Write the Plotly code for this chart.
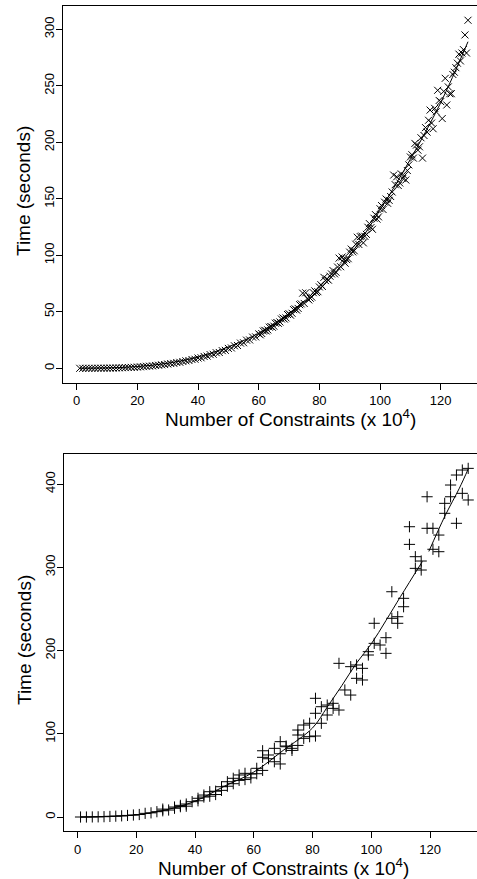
import plotly.graph_objects as go

# ---------------- data: top panel ('x' markers) ----------------
TOP_X1 = list(range(1, 130))
TOP_Y1 = [0.0, 0.0, 0.0, 0.0, 0.0, 0.0, 0.1, 0.1, 0.1, 0.1,
          0.2, 0.2, 0.3, 0.4, 0.5, 0.6, 0.7, 0.8, 0.9, 1.1,
          1.3, 1.5, 1.8, 1.9, 2.1, 2.5, 2.7, 3.1, 3.3, 3.8,
          4.2, 4.4, 5.1, 5.3, 6.0, 6.6, 6.9, 7.8, 8.0, 9.1,
          9.3, 10.5, 10.8, 12.1, 12.4, 13.8, 14.0, 15.6, 15.9, 17.6,
          18.0, 19.9, 20.2, 22.3, 22.6, 24.9, 25.1, 27.6, 27.8, 30.5,
          30.8, 33.6, 34.0, 37.0, 37.3, 40.5, 41.0, 44.5, 44.6, 48.3,
          48.7, 52.6, 53.0, 57.0, 57.4, 61.8, 62.0, 66.9, 67.1, 72.0,
          72.4, 77.6, 78.0, 83.5, 83.6, 89.6, 89.9, 96.0, 96.2, 102.8,
          103.0, 109.8, 109.6, 117.0, 116.8, 124.8, 124.5, 132.8, 132.0, 141.2,
          140.5, 149.8, 148.6, 156.0, 162.5, 161.8, 172.0, 170.5, 175.0, 187.0,
          186.0, 197.5, 196.0, 186.0, 213.0, 219.5, 217.0, 230.0, 246.0, 236.0,
          245.0, 233.0, 243.0, 260.0, 266.0, 278.0, 279.0, 295.0, 308.0]
TOP_X2 = [60.5 + i for i in range(69)]
TOP_Y2 = [29.6, 33.0, 33.0, 36.4, 36.3, 39.9, 39.8, 43.6, 43.5, 47.6,
          47.0, 51.9, 51.5, 56.3, 66.5, 66.8, 60.5, 63.0, 68.5, 67.8,
          74.0, 80.5, 79.0, 81.5, 86.5, 85.0, 97.5, 98.5, 93.0, 97.0,
          105.5, 104.0, 116.0, 116.5, 111.0, 118.5, 128.0, 123.0, 136.0, 134.0,
          144.0, 147.0, 146.0, 152.0, 171.0, 169.5, 164.0, 168.0, 166.6, 180.0,
          189.0, 199.0, 193.0, 204.0, 206.0, 209.0, 228.5, 212.0, 227.0, 237.0,
          221.0, 256.6, 249.0, 243.0, 262.0, 270.0, 272.0, 282.0, 279.0]
TOP_FIT_X = [1, 10, 20, 30, 40, 50, 60, 70, 80, 90, 100, 110, 120, 129]
TOP_FIT_Y = [0, 0.3, 1.5, 4.5, 10, 19, 31, 48, 70, 100, 140, 185, 235, 289]

# ---------------- data: bottom panel ('+' markers) ----------------
BOT_X = [1, 3, 5, 7, 9, 11, 13, 15, 17, 19, 21, 23, 25, 27, 29, 31, 33, 35, 37, 39,
         41, 43, 45, 47, 49,
         29, 33, 35, 37, 41, 43, 45, 47, 49,
         51, 51, 53, 53, 55, 55, 57, 57, 59, 59, 61, 61, 63, 63, 63, 65, 65, 67, 67,
         69, 69, 69, 71, 71, 73, 73, 75, 75, 75, 77, 77, 79, 79, 81, 81, 81, 83, 83,
         85, 85, 87, 87, 89, 89, 91, 93, 93, 95, 95, 97, 97, 99, 99, 101, 101, 103,
         105, 105, 107, 107, 109, 109, 111, 111, 113, 113, 115, 115, 117, 117, 119, 119,
         121, 121, 123, 123, 125, 125, 127, 127, 129, 129, 131, 131, 133, 133]
BOT_Y = [0, 0, 0.1, 0.2, 0.4, 0.7, 1.0, 1.4, 1.9, 2.4, 3.0, 4.4, 5.0, 6.4, 7.5, 8.4,
         10.5, 12.4, 15.6, 18.4, 22.5, 24.0, 30.4, 31.0, 36.4,
         9.5, 12.0, 14.0, 13.0, 19.5, 26.4, 25.0, 27.0, 32.0,
         42.4, 37.0, 46.5, 40.0, 50.5, 44.0, 52.5, 45.0, 51.7, 47.0, 58.5, 52.0,
         79.6, 71.7, 56.0, 74.5, 70.0, 82.5, 66.4, 63.7, 90.5, 76.0, 85.3, 84.4,
         82.5, 80.0, 104.5, 98.5, 86.0, 110.5, 94.5, 112.6, 96.5, 142.6, 124.6, 97.3,
         112.6, 132.5, 134.5, 122.5, 136.6, 130.5, 128.5, 184.6, 152.6, 146.5, 180.6,
         182.6, 166.6, 178.6, 164.6, 198.6, 194.6, 208.6, 232.7, 206.6,
         215.4, 196.6, 270.6, 238.7, 240.6, 232.7, 262.7, 252.6, 348.7, 327.5,
         312.7, 298.7, 307.5, 296.7, 384.7, 346.8, 346.8, 321.6, 318.7, 338.7,
         376.8, 364.8, 398.8, 384.7, 410.8, 352.8, 416.8, 388.8, 418.8, 380.8]
BOT_FIT_X = [1, 10, 20, 30, 40, 50, 60, 70, 80, 85, 90, 95, 100, 105, 110, 117.4,
             None, 119.6, 125, 130, 133]
BOT_FIT_Y = [0, 0.8, 2.5, 8.5, 19, 37, 54, 80, 107, 132, 158, 185, 208, 236, 265, 307,
             None, 319, 361, 395, 418]

X_TICKS = [0, 20, 40, 60, 80, 100, 120]
TOP_Y_TICKS = [0, 50, 100, 150, 200, 250, 300]
BOT_Y_TICKS = [0, 100, 200, 300, 400]

W, H = 477, 879
FONT = "Liberation Sans, Arial, Helvetica, sans-serif"

fig = go.Figure()
fig.add_trace(go.Scatter(x=TOP_X1 + TOP_X2, y=TOP_Y1 + TOP_Y2, mode="markers",
                         marker=dict(symbol="x-thin-open", size=7, color="black",
                                     line=dict(width=1, color="black")),
                         xaxis="x", yaxis="y", showlegend=False))
fig.add_trace(go.Scatter(x=TOP_FIT_X, y=TOP_FIT_Y, mode="lines", line_shape="spline",
                         line=dict(color="black", width=1),
                         xaxis="x", yaxis="y", showlegend=False))
fig.add_trace(go.Scatter(x=BOT_X, y=BOT_Y, mode="markers",
                         marker=dict(symbol="cross-thin-open", size=8, color="black",
                                     line=dict(width=1, color="black")),
                         xaxis="x2", yaxis="y2", showlegend=False))
fig.add_trace(go.Scatter(x=BOT_FIT_X, y=BOT_FIT_Y, mode="lines", line_shape="spline",
                         line=dict(color="black", width=1),
                         xaxis="x2", yaxis="y2", showlegend=False))

axcommon = dict(showline=True, linecolor="black", linewidth=1, ticks="outside",
                ticklen=6, tickwidth=1, tickcolor="black", showgrid=False,
                zeroline=False, tickfont=dict(family=FONT, size=13, color="black"))

def py(p):
    return (H - p) / H

fig.update_layout(
    width=W, height=H, margin=dict(l=0, r=0, t=0, b=0),
    paper_bgcolor="white", plot_bgcolor="white",
    xaxis=dict(domain=[63 / W, 1], range=[-4.52, 131.97], anchor="y", mirror=True,
               tickvals=X_TICKS, **axcommon),
    yaxis=dict(domain=[py(382.7), py(6)], range=[-12.74, 320.6], anchor="x",
               tickvals=TOP_Y_TICKS, tickangle=-90, ticklabelstandoff=-3, **axcommon),
    xaxis2=dict(domain=[64.3 / W, 1], range=[-4.53, 136.0], anchor="y2", mirror=True,
                tickvals=X_TICKS, **axcommon),
    yaxis2=dict(domain=[py(831), py(454.3)], range=[-16.8, 435.7], anchor="x2",
                tickvals=BOT_Y_TICKS, tickangle=-90, ticklabelstandoff=-3, **axcommon),
)

titlefont = dict(family=FONT, size=19, color="black")
ann = [
    dict(text="Number of Constraints (x 10<sup>4</sup>)", x=290.5 / W, y=py(418),
         xref="paper", yref="paper", xanchor="center", yanchor="middle",
         showarrow=False, font=titlefont),
    dict(text="Number of Constraints (x 10<sup>4</sup>)", x=283 / W, y=py(867),
         xref="paper", yref="paper", xanchor="center", yanchor="middle",
         showarrow=False, font=titlefont),
    dict(text="Time (seconds)", x=24 / W, y=py(191), xref="paper", yref="paper",
         xanchor="center", yanchor="middle", textangle=-90, showarrow=False,
         font=titlefont),
    dict(text="Time (seconds)", x=24 / W, y=py(640), xref="paper", yref="paper",
         xanchor="center", yanchor="middle", textangle=-90, showarrow=False,
         font=titlefont),
]
fig.update_layout(annotations=ann)

fig.write_html("out.html")
